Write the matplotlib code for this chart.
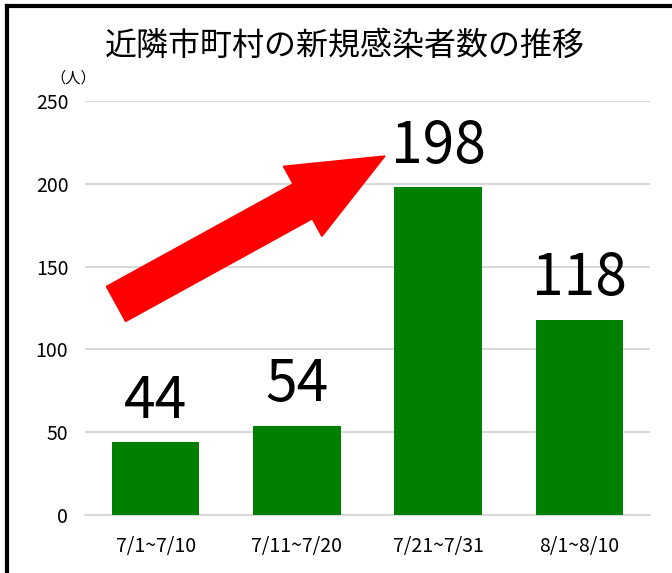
import matplotlib
matplotlib.use("Agg")
import matplotlib.pyplot as plt
from matplotlib.patches import FancyArrow
from matplotlib.lines import Line2D
from matplotlib.transforms import IdentityTransform

plt.rcParams['font.family'] = ['Noto Sans CJK JP', 'DejaVu Sans']

# データ
periods = ["7/1~7/10", "7/11~7/20", "7/21~7/31", "8/1~8/10"]
cases = [44, 54, 198, 118]
yticks = [0, 50, 100, 150, 200, 250]

fig = plt.figure(figsize=(6.72, 5.73), dpi=100)
ax = fig.add_axes([85 / 672, 58 / 573, 565 / 672, 414 / 573])

x = range(len(periods))
bars = ax.bar(x, cases, width=0.62, color="#008000", zorder=3)
for xi, v in zip(x, cases):
    ax.annotate(str(v), (xi, v), xytext=(0, 8), textcoords="offset points",
                ha="center", va="bottom", fontsize=41, color="black")

ax.set_xlim(-0.5, len(periods) - 0.5)
ax.set_ylim(0, 250)
ax.set_yticks(yticks)
ax.set_xticks(list(x))
ax.set_xticklabels(periods)
ax.tick_params(axis="both", length=0, labelsize=14)
ax.tick_params(axis="x", pad=15)
ax.tick_params(axis="y", pad=12)
ax.grid(axis="y", color="#d9d9d9", linewidth=1.5, zorder=0)
for s in ["top", "right", "left"]:
    ax.spines[s].set_visible(False)
ax.spines["bottom"].set_color("#d9d9d9")
ax.spines["bottom"].set_linewidth(1.5)

fig.text(345 / 672, 1 - 46 / 573, "近隣市町村の新規感染者数の推移", ha="center", va="center",
         fontsize=23)
fig.text(73 / 672, 1 - 78 / 573, "（人）", ha="center", va="center", fontsize=11)

# 赤い矢印
arrow = FancyArrow(116, 573 - 304, 269, 148, width=40, head_width=80, head_length=94,
                   length_includes_head=True, color="#ff0000", transform=IdentityTransform())
fig.add_artist(arrow)

# 枠線(上と左)
fig.add_artist(Line2D([7 / 672, 1], [1 - 6 / 573, 1 - 6 / 573], color="black", linewidth=3, transform=fig.transFigure))
fig.add_artist(Line2D([7 / 672, 7 / 672], [0, 1 - 6 / 573], color="black", linewidth=3, transform=fig.transFigure))

fig.savefig("out.png", dpi=100)
